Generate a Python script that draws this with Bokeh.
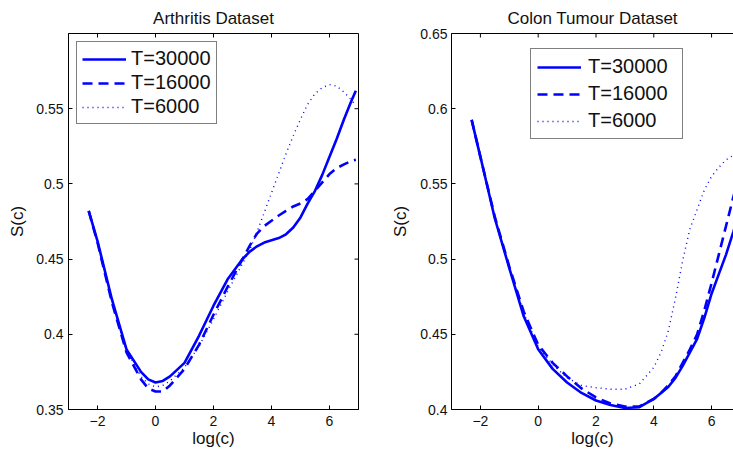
import math
from bokeh.plotting import figure
from bokeh.layouts import row
from bokeh.models import LinearAxis, FixedTicker, Range1d, Legend, LegendItem
from bokeh.embed import file_html
from bokeh.resources import INLINE

FONT = "Liberation Sans"

# ---------------- data ----------------
x_ticks = [-2, 0, 2, 4, 6]
x_tick_labels = ["\u22122", "0", "2", "4", "6"]

arth_y_ticks = [0.35, 0.4, 0.45, 0.5, 0.55]
arth_y_labels = ["0.35", "0.4", "0.45", "0.5", "0.55"]
colon_y_ticks = [0.4, 0.45, 0.5, 0.55, 0.6, 0.65]
colon_y_labels = ["0.4", "0.45", "0.5", "0.55", "0.6", "0.65"]

series_labels = ["T=30000", "T=16000", "T=6000"]

# Arthritis dataset: S(c) against log(c)
arth_logc = [-2.303, -2.0, -1.5, -1.0, -0.5, -0.25, 0.0, 0.25, 0.5, 1.0,
             1.5, 2.0, 2.5, 3.0, 3.25, 3.5, 3.75, 4.0, 4.25, 4.5,
             4.75, 5.0, 5.25, 5.5, 5.75, 6.0, 6.25, 6.5, 6.75, 6.908]
arth_t30000 = [0.482, 0.462, 0.423, 0.390, 0.375, 0.370, 0.368, 0.369, 0.372, 0.381,
               0.399, 0.419, 0.437, 0.450, 0.455, 0.4585, 0.461, 0.4625, 0.464, 0.4665,
               0.471, 0.4777, 0.487, 0.4954, 0.506, 0.518, 0.530, 0.543, 0.555, 0.562]
arth_t16000 = [0.482, 0.461, 0.421, 0.388, 0.370, 0.364, 0.362, 0.362, 0.366, 0.377,
               0.393, 0.413, 0.432, 0.450, 0.459, 0.467, 0.472, 0.4755, 0.479, 0.482,
               0.485, 0.487, 0.490, 0.4954, 0.501, 0.5065, 0.5105, 0.513, 0.5152, 0.516]
arth_t6000 = [0.482, 0.461, 0.422, 0.389, 0.372, 0.367, 0.365, 0.366, 0.369, 0.378,
              0.392, 0.410, 0.429, 0.447, 0.456, 0.468, 0.481, 0.494, 0.507, 0.520,
              0.532, 0.543, 0.553, 0.560, 0.564, 0.566, 0.565, 0.561, 0.556, 0.552]

# Colon tumour dataset
colon_logc = [-2.303, -2.0, -1.5, -1.0, -0.5, 0.0, 0.5, 1.0, 1.5, 2.0,
              2.5, 3.0, 3.5, 4.0, 4.25, 4.5, 4.75, 5.0, 5.25, 5.5,
              5.75, 6.0, 6.25, 6.5, 6.75, 6.908]
colon_t30000 = [0.5926, 0.568, 0.527, 0.494, 0.462, 0.440, 0.427, 0.418, 0.411, 0.406,
                0.403, 0.401, 0.4015, 0.407, 0.411, 0.415, 0.421, 0.429, 0.438, 0.447,
                0.461, 0.477, 0.490, 0.503, 0.518, 0.528]
colon_t16000 = [0.5926, 0.568, 0.528, 0.495, 0.465, 0.443, 0.431, 0.422, 0.414, 0.408,
                0.404, 0.402, 0.402, 0.407, 0.411, 0.416, 0.422, 0.431, 0.440, 0.450,
                0.466, 0.484, 0.503, 0.522, 0.541, 0.553]
colon_t6000 = [0.5926, 0.568, 0.527, 0.494, 0.464, 0.442, 0.430, 0.421, 0.416, 0.4145,
               0.4135, 0.4135, 0.417, 0.428, 0.438, 0.452, 0.474, 0.499, 0.520, 0.533,
               0.546, 0.555, 0.561, 0.566, 0.569, 0.571]

BLUE = "#0000ff"
STYLES = [dict(line_width=2.6), dict(line_width=2.6, line_dash="10 6"),
          dict(line_width=1.4, line_dash="1 4")]
TICK_LEN = 4


def style_axis(ax, ticks, labels):
    ax.ticker = FixedTicker(ticks=ticks)
    ax.major_label_overrides = {t: l for t, l in zip(ticks, labels)}
    ax.axis_line_color = "black"
    ax.axis_line_width = 1
    ax.major_tick_line_color = "black"
    ax.major_tick_in = TICK_LEN
    ax.major_tick_out = 0
    ax.minor_tick_line_color = None
    ax.major_label_text_font = FONT
    ax.major_label_text_color = "#111111"
    ax.major_label_text_font_size = "14px"


def make_panel(width, min_left, min_right, x_end, y_range, y_ticks, y_labels,
               title, logc, series, box_right, ylab_standoff, ylab_tick_standoff):
    y_lo, y_hi = y_range
    p = figure(width=width, height=455, x_range=Range1d(-3, x_end),
               y_range=Range1d(y_lo, y_hi), output_backend="svg",
               toolbar_location=None, min_border_left=min_left,
               min_border_right=min_right, min_border_top=32,
               min_border_bottom=46)
    p.grid.visible = False
    p.background_fill_color = "white"
    p.border_fill_color = "white"

    xax = p.below[0]
    yax = p.left[0]
    style_axis(xax, x_ticks, x_tick_labels)
    style_axis(yax, y_ticks, y_labels)
    xax.major_label_standoff = 6
    yax.major_label_standoff = ylab_tick_standoff
    xax.axis_label = "log(c)"
    yax.axis_label = "S(c)"
    for ax, st in ((xax, 0), (yax, ylab_standoff)):
        ax.axis_label_text_font = FONT
        ax.axis_label_text_font_size = "17px"
        ax.axis_label_text_font_style = "normal"
        ax.axis_label_text_color = "#111111"
        ax.axis_label_standoff = st

    if box_right:
        p.outline_line_color = "black"
        p.outline_line_width = 1
        p.outline_line_alpha = 1.0
    else:
        # open on the right (the panel runs past the picture's edge): top border only
        p.outline_line_color = None
        top = LinearAxis(ticker=FixedTicker(ticks=[]))
        top.axis_line_color = "black"
        top.major_label_standoff = 0
        top.major_tick_out = 0
        top.major_tick_in = 0
        top.minor_tick_line_color = None
        p.add_layout(top, "above")

    # inward tick marks on the top edge (and right edge for a closed box)
    p.ray(x=x_ticks, y=[y_hi] * len(x_ticks), length=TICK_LEN, length_units="screen",
          angle=-math.pi / 2, line_color="black", line_width=1)
    if box_right:
        p.ray(x=[x_end] * len(y_ticks), y=y_ticks, length=TICK_LEN, length_units="screen",
              angle=math.pi, line_color="black", line_width=1)

    p.title.text = title
    p.title.text_font = FONT
    p.title.text_font_size = "17px"
    p.title.text_font_style = "normal"
    p.title.text_color = "#111111"
    p.title.standoff = 12

    renderers = []
    for ys, st in zip(series, STYLES):
        r = p.line(logc, ys, line_color=BLUE, **st)
        renderers.append(r)
    return p, renderers


left, l_r = make_panel(388, 68, 30, 7, (0.35, 0.6), arth_y_ticks, arth_y_labels,
                       "Arthritis Dataset", arth_logc,
                       [arth_t30000, arth_t16000, arth_t6000], True, 6, 5)
left.title.align = "center"

right_end = -3 + 10 * (345 - 62) / 290.0
right, r_r = make_panel(345, 62, 0, right_end, (0.4, 0.65), colon_y_ticks, colon_y_labels,
                        "Colon Tumour Dataset", colon_logc,
                        [colon_t30000, colon_t16000, colon_t6000], False, 7, 4)
right.title.align = "left"
right.title.offset = 56


def add_legend(p, rs, location, padding, spacing, margin, standoff, label_width):
    lg = Legend(items=[LegendItem(label=lab, renderers=[r])
                       for lab, r in zip(series_labels, rs)],
                location=location)
    lg.label_text_font = FONT
    lg.label_text_font_size = "20px"
    lg.label_text_color = "#111111"
    lg.glyph_width = 44
    lg.glyph_height = 20
    lg.label_height = 20
    lg.label_width = label_width
    lg.label_standoff = standoff
    lg.padding = padding
    lg.spacing = spacing
    lg.margin = margin
    lg.border_line_color = "black"
    lg.border_line_width = 1
    lg.background_fill_color = "white"
    lg.background_fill_alpha = 1.0
    p.add_layout(lg)


add_legend(left, l_r, "top_left", 5, 1, 8, 5, 20)
add_legend(right, r_r, (79, 270), 6, 4, 0, 7, 88)

layout = row(left, right)
open("out.html", "w").write(file_html(layout, INLINE))
